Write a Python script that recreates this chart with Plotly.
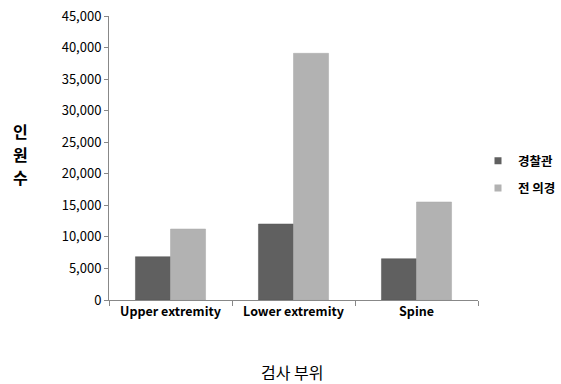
import plotly.graph_objects as go

categories = ["Upper extremity", "Lower extremity", "Spine"]
police = [6860, 12040, 6540]          # 경찰관
conscripts = [11250, 39090, 15530]    # 전 의경
y_ticks = [0, 5000, 10000, 15000, 20000, 25000, 30000, 35000, 40000, 45000]

font_main = "Noto Sans CJK KR"
dark, light = "#606060", "#b2b2b2"

fig = go.Figure()
fig.add_trace(go.Bar(
    x=categories, y=police, name="경찰관", showlegend=False,
    marker=dict(color=dark, line=dict(color="#555555", width=0.5)),
))
fig.add_trace(go.Bar(
    x=categories, y=conscripts, name="전 의경", showlegend=False,
    marker=dict(color=light, line=dict(color="#a8a8a8", width=0.5)),
))
# small square legend keys
for name, col, grp in [("경찰관", dark, "a"), ("전 의경", light, "b")]:
    fig.add_trace(go.Scatter(
        x=[None], y=[None], mode="markers", name=name, legendgroup=grp,
        marker=dict(symbol="square", size=7, color=col),
    ))

fig.update_layout(
    width=561, height=384,
    margin=dict(l=109, r=83, t=16, b=84, autoexpand=False),
    paper_bgcolor="white", plot_bgcolor="white",
    barmode="group", bargap=0.43, bargroupgap=0,
    font=dict(family=font_main, color="#000000", size=13),
    showlegend=True,
    legend=dict(
        xref="container", yref="container",
        x=478 / 561, y=0.545, xanchor="left", yanchor="middle",
        font=dict(family=font_main, size=12.5, color="#000000", weight="bold"),
        itemwidth=30, traceorder="grouped", tracegroupgap=8,
        bgcolor="rgba(0,0,0,0)",
    ),
    xaxis=dict(
        showline=True, linecolor="#888888", linewidth=1,
        ticks="outside", tickson="boundaries", ticklen=5, tickcolor="#888888",
        tickangle=0, automargin=False,
        tickfont=dict(family=font_main, size=12.5, color="#000000", weight="bold"),
        showgrid=False,
    ),
    yaxis=dict(
        range=[0, 45000], tickvals=y_ticks,
        tickformat=",d", automargin=False,
        showline=True, linecolor="#888888", linewidth=1,
        ticks="outside", ticklen=4, tickcolor="#888888",
        tickfont=dict(family=font_main, size=13, color="#000000"),
        showgrid=False, zeroline=False,
    ),
)

# vertical, stacked y-axis title
for ch, ypix in [("인", 131), ("원", 154), ("수", 177)]:
    fig.add_annotation(
        text=f"<b>{ch}</b>", xref="paper", yref="paper",
        x=(20 - 109) / 369, y=(300 - ypix) / 284,
        xanchor="center", yanchor="middle", showarrow=False,
        font=dict(family=font_main, size=16, color="#000000"),
    )
fig.add_annotation(
    text="검사 부위", xref="paper", yref="paper",
    x=(292 - 109) / 369, y=(300 - 372) / 284,
    xanchor="center", yanchor="middle", showarrow=False,
    font=dict(family=font_main, size=16, color="#000000"),
)

fig.write_html("out.html")
